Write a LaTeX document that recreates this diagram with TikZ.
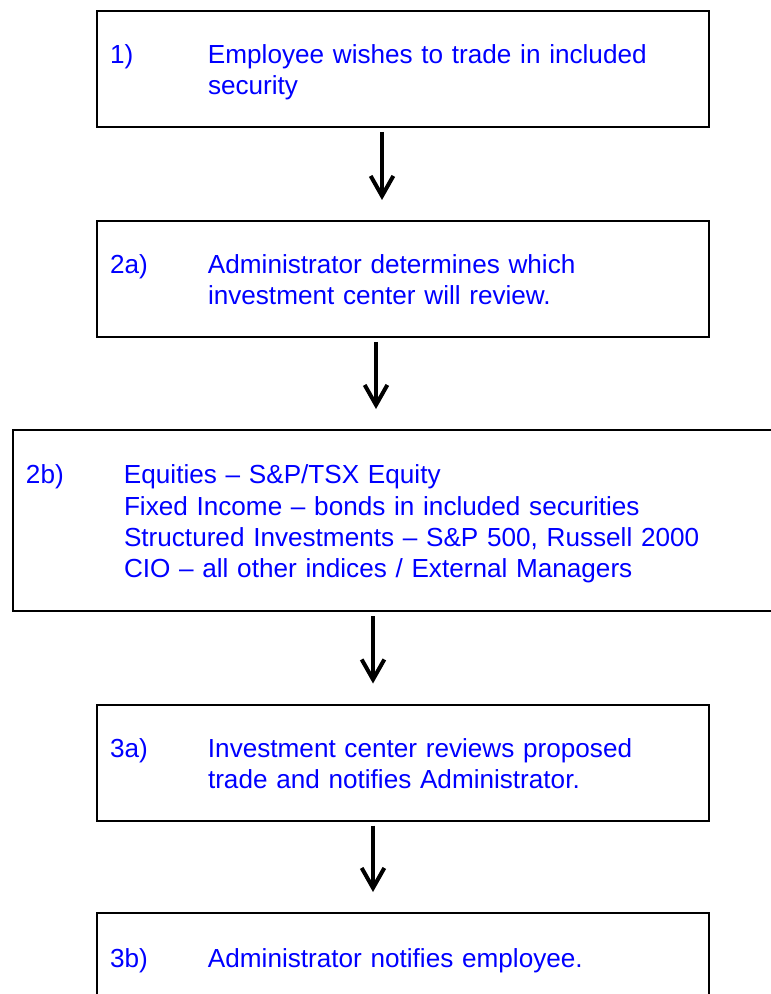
\documentclass[tikz,border=0pt]{standalone}
\usepackage{fontspec}
\setmainfont{Liberation Sans}
\usetikzlibrary{arrows.meta}

\definecolor{stepblue}{RGB}{0,0,255}

\tikzstyle{stepbox} = [rectangle, draw=black, line width=1.5pt, inner xsep=9.75pt, inner ysep=0pt, text width=439.5pt, minimum width=459pt, minimum height=87pt, text=stepblue, font=\fontsize{19.6pt}{23.4pt}\selectfont]
\tikzstyle{arrow} = [line width=3pt, -{Straight Barb[length=15pt, width=17pt, line width=3pt]}, shorten <=3pt, shorten >=15pt]

% step number in its own column, text after it (set a little low in the box)
\newcommand{\steptext}[2]{\raisebox{-3pt}[\height][\depth]{\begin{tabular}{@{}p{73.5pt}@{}l@{}}#1 & #2\end{tabular}}}

\begin{document}
\begin{tikzpicture}[x=0.75pt, y=-0.75pt]
  \useasboundingbox (0,0) rectangle (770,994);

  \node (trade) [stepbox] at (403,69) {\steptext{1)}{Employee wishes to trade in included\\ & security}};
  \node (admin) [stepbox] at (403,279) {\steptext{2a)}{Administrator determines which\\ & investment center will review.}};
  \node (centers) [stepbox, text width=552pt, minimum width=571.5pt, minimum height=135.75pt] at (394,520.5)
    {\steptext{2b)}{Equities -- S\&P/TSX Equity\\ & Fixed Income -- bonds in included securities\\ & Structured Investments -- S\&P 500, Russell 2000\\ & CIO -- all other indices / External Managers}};
  \node (review) [stepbox] at (403,762.5) {\steptext{3a)}{Investment center reviews proposed\\ & trade and notifies Administrator.}};
  \node (notify) [stepbox, minimum height=66pt] at (403,957) {\steptext{3b)}{Administrator notifies employee.}};

  \draw [arrow] (trade.south -| 382,0) -- (admin.north -| 382,0);
  \draw [arrow] (admin.south -| 376,0) -- (centers.north -| 376,0);
  \draw [arrow] (centers.south -| 373,0) -- (review.north -| 373,0);
  \draw [arrow] (review.south -| 373,0) -- (notify.north -| 373,0);
\end{tikzpicture}
\end{document}
